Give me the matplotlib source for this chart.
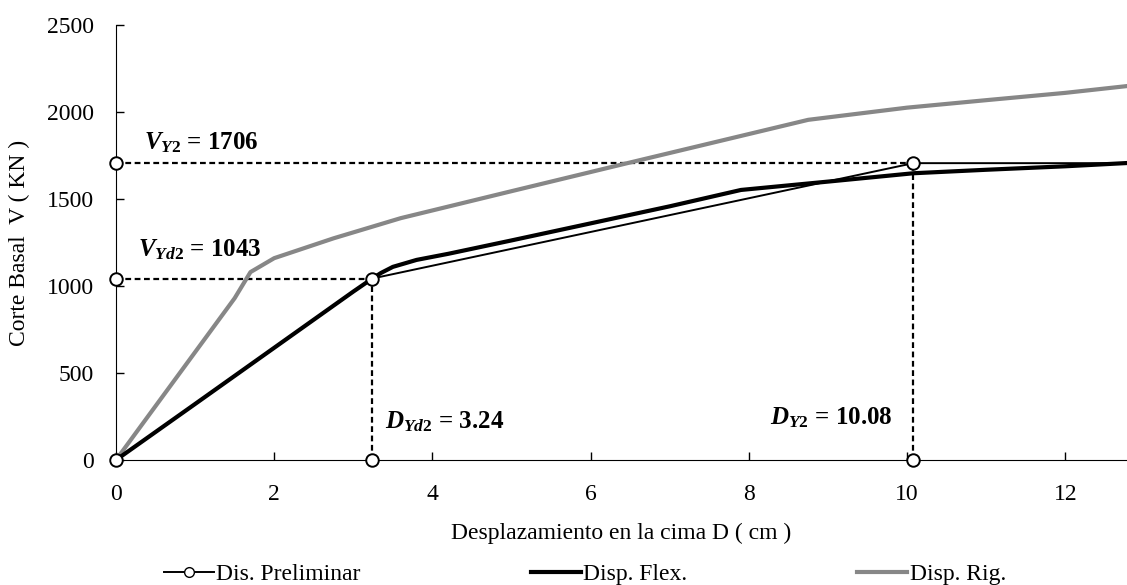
import numpy as np
import matplotlib
matplotlib.use("Agg")
import matplotlib.pyplot as plt
from matplotlib.lines import Line2D

plt.rcParams['font.family'] = ['Liberation Serif', 'DejaVu Serif']
plt.rcParams['mathtext.fontset'] = 'custom'
plt.rcParams['mathtext.it'] = 'Liberation Serif:italic:bold'
plt.rcParams['mathtext.rm'] = 'Liberation Serif:bold'
plt.rcParams['mathtext.bf'] = 'Liberation Serif:bold'

# bilinear preliminary design
prelim_d = [0, 3.24, 10.08, 13.0]
prelim_v = [0, 1043, 1706, 1706]
dy_d2, vy_d2 = 3.24, 1043
dy2, vy2 = 10.08, 1706

# flexible design curve
flex_d = [0, 1.0, 2.0, 3.0, 3.24, 3.35, 3.5, 3.8, 4.2, 5.0, 6.0, 7.0, 7.9, 9.0, 10.08, 11.0, 12.0, 13.0]
flex_v = [0, 322, 645, 968, 1043, 1075, 1110, 1150, 1185, 1262, 1360, 1458, 1552, 1600, 1648, 1668, 1688, 1712]

# rigid design curve
rig_d = [0, 1.0, 1.5, 1.7, 1.85, 2.0, 2.75, 3.6, 5.0, 6.5, 7.4, 8.75, 10.0, 11.0, 12.0, 13.0]
rig_v = [0, 620, 930, 1080, 1120, 1160, 1274, 1390, 1545, 1710, 1808, 1955, 2025, 2068, 2110, 2160]

x_ticks = [0, 2, 4, 6, 8, 10, 12]
y_ticks = [0, 500, 1000, 1500, 2000, 2500]
labels = ['Dis. Preliminar', 'Disp. Flex.', 'Disp. Rig.']

fig = plt.figure(figsize=(11.27, 5.85), dpi=100)
ax = fig.add_axes([116/1127, 125/585, 1011/1127, 435/585])

fs = 17
gray = '#878787'
dash = (0, (2.6, 1.6))
# dashed guide lines
ax.plot([0, dy2], [vy2, vy2], color='black', lw=1.6, ls=dash, zorder=2)
ax.plot([0, dy_d2], [vy_d2, vy_d2], color='black', lw=1.6, ls=dash, zorder=2)
ax.plot([dy_d2, dy_d2], [0, vy_d2], color='black', lw=1.6, ls=dash, zorder=2)
ax.plot([dy2, dy2], [0, vy2], color='black', lw=1.6, ls=dash, zorder=2)

ax.plot(rig_d, rig_v, color=gray, lw=3, zorder=3)
ax.plot(flex_d, flex_v, color='black', lw=3, zorder=3)
ax.plot(prelim_d, prelim_v, color='black', lw=1.4, zorder=4)
ax.plot(prelim_d[:3], prelim_v[:3], ls='none', marker='o', ms=9, mfc='white',
        mec='black', mew=1.4, zorder=6, clip_on=False)
# markers on the axes
ax.plot([0, 0, dy_d2, dy2], [vy2, vy_d2, 0, 0], ls='none', marker='o', ms=9,
        mfc='white', mec='black', mew=1.4, zorder=6, clip_on=False)

ax.text(0.35, 1822, r'$V_{\mathit{Y2}}$ = 1706', fontsize=fs + 1, fontweight='bold', va='center')
ax.text(0.28, 1207, r'$V_{\mathit{Yd2}}$ = 1043', fontsize=fs + 1, fontweight='bold', va='center')
ax.text(3.40, 218, r'$D_{\mathit{Yd2}}$ = 3.24', fontsize=fs + 1, fontweight='bold', va='center')
ax.text(8.27, 241, r'$D_{\mathit{Y2}}$ = 10.08', fontsize=fs + 1, fontweight='bold', va='center')

ax.set_xlim(0, 12.78)
ax.set_ylim(0, 2500)
ax.set_xticks(x_ticks)
ax.set_yticks(y_ticks)
ax.tick_params(direction='in', length=6, width=1, labelsize=fs)
ax.tick_params(axis='y', pad=16)
ax.tick_params(axis='x', pad=17)
for s in ['top', 'right']:
    ax.spines[s].set_visible(False)
ax.set_xlabel('Desplazamiento en la cima D ( cm )', fontsize=fs, labelpad=13)
ax.set_ylabel('Corte Basal  V ( KN )', fontsize=fs, labelpad=12)

handles = [
    Line2D([], [], color='black', lw=1.4, marker='o', ms=7, mfc='white', mec='black'),
    Line2D([], [], color='black', lw=3),
    Line2D([], [], color=gray, lw=3),
]
fig.legend(handles, labels, loc='center', bbox_to_anchor=(585/1127, 1 - 574/585),
           ncol=3, frameon=False, fontsize=fs, handlelength=2.12, handletextpad=0.1,
           columnspacing=7.2, borderpad=0)

fig.savefig('out.png', dpi=100)
